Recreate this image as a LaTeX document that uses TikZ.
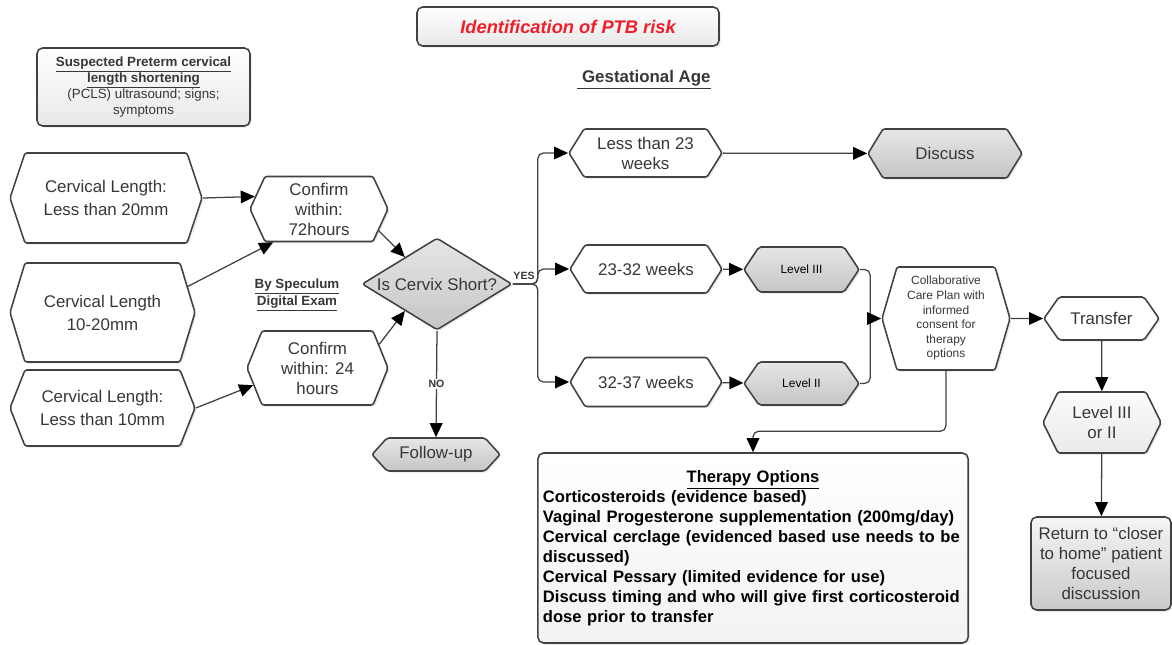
\documentclass[tikz,border=0pt]{standalone}
\usepackage{fontspec}
\setmainfont{Liberation Sans}
\usetikzlibrary{shapes.symbols,shapes.geometric,arrows.meta,shadows,calc}

\begin{document}
\begin{tikzpicture}[x=0.025cm,y=-0.025cm,
    % size in px, hexagon ends kept about 15px deep
    sz/.style 2 args={minimum width=#1*0.025cm,minimum height=#2*0.025cm},
    hexsz/.style 2 args={sz={#1}{#2},
      /utils/exec={\pgfmathsetmacro\hexang{2*atan(#2/30)}},
      signal pointer angle=\hexang},
    base/.style={draw=edge,line width=1.1pt,text=ink,align=center,inner sep=1pt,
      drop shadow={opacity=0.18,shadow xshift=1.2pt,shadow yshift=-1.2pt}},
    hexa/.style={base,signal,signal to=east and west,rounded corners=1.5pt,
      fill=white,font=\fontsize{12}{14.2}\selectfont},
    ghexa/.style={hexa,top color=gray!20,bottom color=gray!45},
    card/.style={base,rectangle,rounded corners=4pt,top color=white,bottom color=gray!18},
    line/.style={draw=edge,line width=0.9pt},
    arr/.style={line,-{Triangle[length=10pt,width=9pt,color=black]}},
    lbl/.style={font=\bfseries\fontsize{7.5}{9}\selectfont,text=ink,inner sep=1pt}]

  % Colours
  \definecolor{edge}{RGB}{65,65,65}
  \definecolor{ink}{RGB}{55,55,55}
  \definecolor{ptbred}{RGB}{240,30,40}

  \useasboundingbox (0,0) rectangle (1172,645);

  % Headings
  \node[card,sz={302}{39},text=ptbred,
    font=\bfseries\itshape\fontsize{13}{15}\selectfont] (title) at (568,26.5)
    {Identification of PTB risk};
  \node[card,sz={213}{78},font=\fontsize{9.5}{11.5}\selectfont] (susp) at (143.5,87)
    {\textbf{\underline{Suspected Preterm cervical}}\\\textbf{\underline{length shortening}}\\(PCLS) ultrasound; signs;\\symptoms};
  \node[font=\bfseries\fontsize{12}{14}\selectfont,text=ink] (gest) at (644,80)
    {\underline{\ Gestational Age}};

  % Cervical length findings
  \node[hexa,hexsz={192}{90},font=\fontsize{12}{16.4}\selectfont] (cl20) at (106,198)
    {Cervical Length:\\Less than 20mm};
  \node[hexa,hexsz={185}{99},font=\fontsize{12}{16.4}\selectfont] (cl1020) at (102.5,312.5)
    {Cervical Length\\10-20mm};
  \node[hexa,hexsz={185}{76},font=\fontsize{12}{16.4}\selectfont] (cl10) at (102.5,408)
    {Cervical Length:\\Less than 10mm};

  % Confirmation
  \node[hexa,hexsz={138}{65}] (c72) at (319,209) {Confirm\\within:\\72hours};
  \node[hexa,hexsz={141}{74}] (c24) at (317.5,368) {Confirm\\within: 24\\hours};
  \node[font=\bfseries\fontsize{9.5}{12}\selectfont,text=ink,align=center] (spec) at (297,295)
    {\underline{By Speculum}\\\underline{Digital Exam}};

  % Decision
  \node[base,diamond,aspect=1.6,inner sep=0pt,sz={150}{92},rounded corners=2pt,
    top color=gray!20,bottom color=gray!45,font=\fontsize{12}{14}\selectfont] (dia) at (437,284)
    {Is Cervix Short?};
  \node[ghexa,hexsz={128}{33}] (fup) at (436,454.5) {Follow-up};

  % Gestational age
  \node[hexa,hexsz={153}{48}] (lt23) at (645.5,153) {Less than 23\\weeks};
  \node[hexa,hexsz={152}{48}] (w2332) at (646,269) {23-32 weeks};
  \node[hexa,hexsz={152}{49}] (w3237) at (646,382) {32-37 weeks};
  \node[ghexa,hexsz={154}{49}] (disc) at (945,153.5) {Discuss};
  \node[ghexa,hexsz={115}{45},text=black,font=\fontsize{8.5}{10}\selectfont] (lvl3) at (801.5,269.5) {Level III};
  \node[ghexa,hexsz={115}{43},text=black,font=\fontsize{8.5}{10}\selectfont] (lvl2) at (801.5,383.5) {Level II};

  % Care plan and transfer
  \node[hexa,hexsz={128}{103},font=\fontsize{8.5}{10.4}\selectfont] (cp) at (946,318.5)
    {\makebox[0pt]{\begin{tabular}{@{}c@{}}Collaborative\\Care Plan with\\informed\\consent for\\therapy\\options\end{tabular}}};
  \node[hexa,hexsz={115}{43}] (trans) at (1101.5,318.5) {Transfer};
  \node[hexa,hexsz={118}{61},top color=gray!3,bottom color=gray!16] (lvl32) at (1102,422.5)
    {Level III\\or II};
  \node[card,sz={140}{93},top color=gray!8,bottom color=gray!42,
    font=\fontsize{12}{14.2}\selectfont] (ret) at (1101,563.5)
    {Return to “closer\\to home” patient\\focused\\discussion};

  % Therapy options
  \node[card,sz={430}{190},bottom color=gray!10,text width=10.5cm,inner xsep=0.125cm,
    align=left,text=black,font=\bfseries\fontsize{11.8}{14.2}\selectfont] (ther) at (753,548)
    {\hspace*{\fill}\underline{Therapy Options}\hspace*{\fill}\null\\
     Corticosteroids (evidence based)\\
     Vaginal Progesterone supplementation (200mg/day)\\
     Cervical cerclage (evidenced based use needs to be discussed)\\
     Cervical Pessary (limited evidence for use)\\
     Discuss timing and who will give first corticosteroid dose prior to transfer};

  % Connectors
  \draw[arr] (cl20.east) -- (c72.169);
  \draw[arr] (cl1020.17) -- (c72.216);
  \draw[arr] (cl10.east) -- (c24.195);
  \draw[arr] (c72.-20) -- (dia.140);
  \draw[arr] (c24.21) -- (dia.220);
  \draw[arr] (dia.south) -- (fup.north) node[lbl,midway,fill=white] {NO};

  \coordinate (yes) at ($(dia.east)+(25,0)$);
  \node[lbl,above=2pt] (yeslbl) at ($(dia.east)!0.45!(yes)$) {YES};
  \draw[arr,rounded corners=4pt] (dia.east) -- (yes) |- (lt23);
  \draw[arr,rounded corners=4pt] (dia.east) -- (yes) |- (w2332);
  \draw[arr,rounded corners=4pt] (dia.east) -- (yes) |- (w3237);

  \draw[arr] (lt23) -- (disc);
  \draw[arr] (w2332) -- (lvl3);
  \draw[arr] (w3237) -- (lvl2);

  \coordinate (join) at ($(cp.west)+(-11,0)$);
  \draw[line,rounded corners=4pt] (lvl3.east) -| (join);
  \draw[line,rounded corners=4pt] (lvl2.east) -| (join);
  \draw[arr] (join) -- (cp.west);

  \draw[arr] (cp) -- (trans);
  \draw[arr] (trans) -- (lvl32);
  \draw[arr] (lvl32) -- (ret);
  \draw[arr,rounded corners=4pt] (cp.south) |- ($(ther.north)+(0,-21)$) -- (ther.north);
\end{tikzpicture}
\end{document}
